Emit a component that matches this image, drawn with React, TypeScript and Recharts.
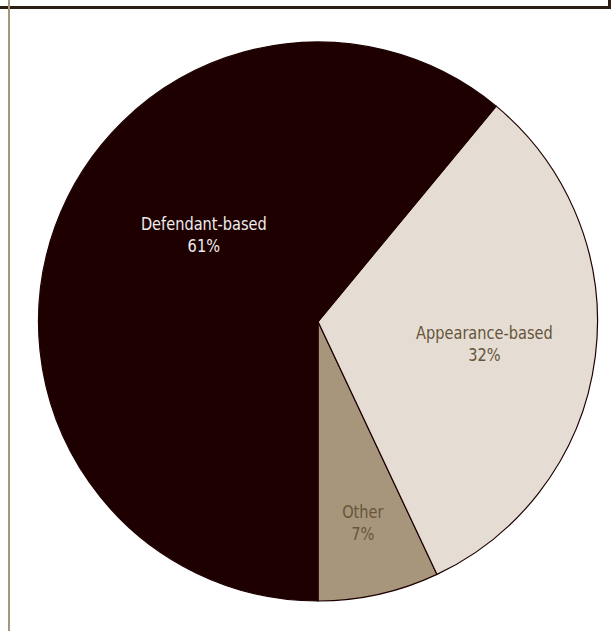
import { PieChart, Pie, Cell } from "recharts";

// slice order runs counter-clockwise from the bottom (6 o'clock)
const categories = ["Other", "Appearance-based", "Defendant-based"];
const shares = [7, 32, 61];

const fills = ["#a8967c", "#e5ddd4", "#1e0000"];
const labelColors = ["#66553a", "#66553a", "#ececec"];

const data = categories.map((name, i) => ({ name, value: shares[i] }));

const FONT = "'Liberation Sans Narrow', 'DejaVu Sans Condensed', 'Arial Narrow', sans-serif";
const RADIAN = Math.PI / 180;

// where each label sits: fraction of radius + optional angle override
const labelPlacement: Record<string, { r: number; angle?: number }> = {
  Other: { r: 0.735 },
  "Appearance-based": { r: 0.6 },
  "Defendant-based": { r: 0.515, angle: 142.5 },
};

function SliceLabel(props: any) {
  const { cx, cy, outerRadius, midAngle, index, name, value } = props;
  const place = labelPlacement[name] || { r: 0.6 };
  const ang = place.angle ?? midAngle;
  const r = outerRadius * place.r;
  const x = cx + r * Math.cos(-ang * RADIAN);
  const y = cy + r * Math.sin(-ang * RADIAN);
  return (
    <text
      transform={`translate(${x},${y}) scale(0.9,1)`}
      x={0}
      y={0}
      textAnchor="middle"
      fill={labelColors[index]}
      fontFamily={FONT}
      fontSize={18}
    >
      <tspan x={0} dy="-0.2em">{name}</tspan>
      <tspan x={0} dy="1.2em">{value}%</tspan>
    </text>
  );
}

export default function App() {
  return (
    <div style={{ position: "fixed", left: 0, top: 0, width: 615, height: 631, background: "#fff" }}>
      {/* frame lines left over from the panel above */}
      <div style={{ position: "absolute", left: 0, top: 6, width: 611, height: 3, background: "#2e1e12" }} />
      <div style={{ position: "absolute", left: 608, top: 0, width: 3, height: 9, background: "#2e1e12" }} />
      <div style={{ position: "absolute", left: 8, top: 0, width: 2, height: 631, background: "#a8967c" }} />
      <div style={{ position: "absolute", left: 0, top: 0 }}>
        <PieChart width={615} height={631} margin={{ top: 0, right: 0, bottom: 0, left: 0 }}>
          <Pie
            data={data}
            dataKey="value"
            nameKey="name"
            cx={318}
            cy={321.5}
            outerRadius={279.5}
            startAngle={-90}
            endAngle={270}
            stroke="#1e0000"
            strokeWidth={1.2}
            label={SliceLabel}
            labelLine={false}
            isAnimationActive={false}
          >
            {data.map((d, i) => (
              <Cell key={d.name} fill={fills[i]} />
            ))}
          </Pie>
        </PieChart>
      </div>
    </div>
  );
}
